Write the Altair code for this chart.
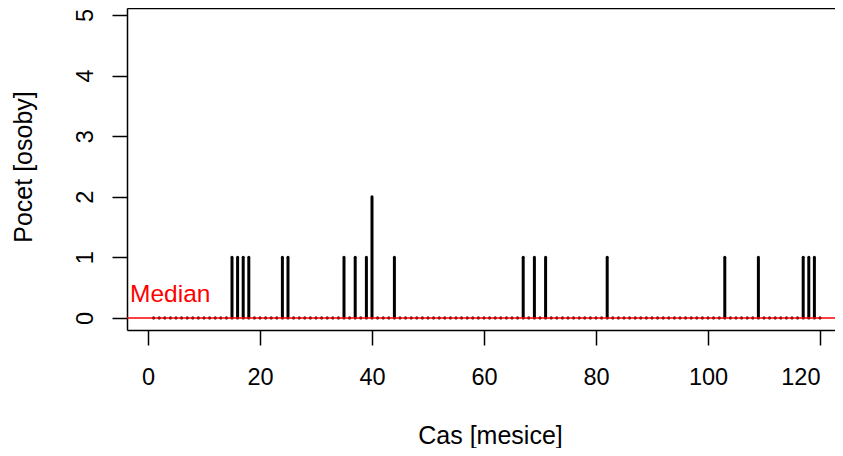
import altair as alt
import pandas as pd

# Data
all_months = list(range(1, 121))
event_months = [15, 16, 17, 18, 24, 25, 35, 37, 39, 40, 44, 67, 69, 71, 82, 103, 109, 117, 118, 119]
event_counts = [1, 1, 1, 1, 1, 1, 1, 1, 1, 2, 1, 1, 1, 1, 1, 1, 1, 1, 1, 1]
median_value = [0]
median_label = ["Median"]
x_ticks = [0, 20, 40, 60, 80, 100, 120]
y_ticks = [0, 1, 2, 3, 4, 5]

lookup = dict(zip(event_months, event_counts))
df = pd.DataFrame({"cas": all_months, "pocet": [lookup.get(m, 0) for m in all_months]})
df["base"] = 0
med_df = pd.DataFrame({"median": median_value})
lab_df = pd.DataFrame({"x": [-3.2], "y": [0.26], "label": median_label})

FONT = "Liberation Sans"
xs = alt.Scale(domain=[-3.75, 122.68], nice=False, zero=False)
ys = alt.Scale(domain=[-0.2, 5.115], nice=False, zero=False)

x_axis = alt.Axis(
    values=x_ticks, format="d", title="Cas [mesice]", grid=False, domainColor="black", domainWidth=1.5,
    tickColor="black", tickWidth=1.5, tickSize=15, labelPadding=20, labelFontSize=23.5,
    labelFont=FONT, labelColor="black", titleFont=FONT, titleFontSize=25, titleFontWeight="normal",
    titleColor="black", titleX=363, titleY=113, titleBaseline="alphabetic", titleAlign="center",
    labelFlush=16,
)
y_axis = alt.Axis(
    values=y_ticks, format="d", title="Pocet [osoby]", grid=False, domainColor="black", domainWidth=1.5,
    tickColor="black", tickWidth=1.5, tickSize=15, labelPadding=20, labelFontSize=23.5,
    labelFont=FONT, labelColor="black", labelAngle=-90, labelAlign="center",
    labelBaseline="alphabetic", titleFont=FONT, titleFontSize=25, titleFontWeight="normal",
    titleColor="black", titleAngle=-90, titleX=-95.5, titleY=158.5, titleBaseline="alphabetic",
    titleAlign="center", labelFlush=False,
)
top_axis = alt.Axis(orient="top", labels=False, ticks=False, title=None, grid=False,
                    domainColor="black", domainWidth=1.5)

spikes = alt.Chart(df).mark_rule(color="black", strokeWidth=3, strokeCap="round").encode(
    x=alt.X("cas:Q", scale=xs, axis=x_axis),
    y=alt.Y("base:Q", scale=ys, axis=y_axis),
    y2="pocet:Q",
)

dots = alt.Chart(df).mark_square(color="black", size=5, opacity=1).encode(
    x=alt.X("cas:Q", scale=xs, axis=top_axis),
    y=alt.Y("base:Q", scale=ys, axis=y_axis),
)

med = alt.Chart(med_df).mark_rule(color="#FF0000", strokeWidth=1.5).encode(
    y=alt.Y("median:Q", scale=ys, axis=y_axis),
)

label = alt.Chart(lab_df).mark_text(
    color="#FF0000", fontSize=24.5, font=FONT, align="left", baseline="alphabetic"
).encode(
    x=alt.X("x:Q", scale=xs, axis=None),
    y=alt.Y("y:Q", scale=ys, axis=y_axis),
    text="label:N",
)

chart = alt.layer(spikes, dots, med, label).resolve_axis(x="independent").properties(
    width=708, height=322,
    autosize=alt.AutoSizeParams(type="none"),
    padding={"left": 119, "top": 0, "right": 0, "bottom": 118},
).configure_view(strokeWidth=0).configure(background="white")

chart.save("out.html", embed_options={"renderer": "svg", "actions": False})
